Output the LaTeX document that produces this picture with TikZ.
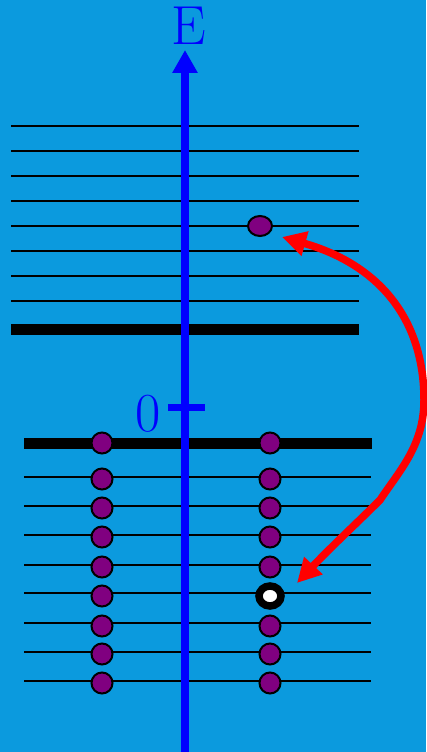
\documentclass[tikz,border=0pt]{standalone}
\usepackage{fontspec}
\usetikzlibrary{arrows.meta,shapes.geometric}
\definecolor{bgblue}{RGB}{11,154,222}
\definecolor{dotpurple}{RGB}{128,0,128}

\begin{document}
\begin{tikzpicture}[x=1pt, y=-1pt,
	level/.style={line width=2pt},
	bandedge/.style={line width=11pt},
	electron/.style={circle, draw, fill=dotpurple, line width=2pt, minimum size=21pt, inner sep=0pt},
	hole/.style={ellipse, draw, fill=white, line width=7.5pt, minimum width=22pt, minimum height=20pt, inner sep=0pt},
	axlabel/.style={text=blue, inner sep=0pt, font=\fontsize{55}{55}\selectfont}]
	% Background
	\fill[bgblue] (0,0) rectangle (426,752);
	\useasboundingbox (0,0) rectangle (426,752);
	
	% Conduction band levels
	\foreach \y in {125.7,150.7,175.7,200.7,225.5,250.5,275.5,300.5}
		\draw[level] (11,\y) -- (359,\y);
	\draw[bandedge] (11,329.5) -- (359,329.5);
	
	% Valence band levels
	\draw[bandedge] (24,443.5) -- (372,443.5);
	\foreach \y in {477,506,535,565,593,623,652,681}
		\draw[level] (24,\y) -- (371,\y);
	
	% Energy axis
	\coordinate (axbot) at (185,752);
	\coordinate (axtop) at (185,50);
	\draw[blue, line width=8pt, -{Triangle[length=23pt,width=24pt]}] (axbot) -- (axtop);
	\draw[blue, line width=7pt] (168,407) -- (205,407); % zero tick
	\node[axlabel] (lblE) at (189,25.5) {E};
	\node[axlabel] (lblzero) at (148.5,414) {0};
	
	% Excited electron
	\node[electron, ellipse, minimum width=24pt, minimum height=20pt] (exc) at (260,226) {};
	
	% Electrons in the valence band
	\foreach \y [count=\i] in {443,479,508,537,567,596,626,654,683}
		\node[electron] (vl\i) at (102,\y) {};
	\foreach \y [count=\i] in {443,479,508,537,567}
		\node[electron] (vr\i) at (270,\y) {};
	\foreach \y [count=\i from 7] in {626,654,683}
		\node[electron] (vr\i) at (270,\y) {};
	
	% Hole left behind
	\node[hole] (hl) at (270,596) {};
	
	% Excitation arrow
	\coordinate (lowtip) at (297,583);
	\coordinate (uptip) at (282,237);
	\draw[red, line width=7.5pt, {Triangle[length=24pt,width=24pt]}-{Triangle[length=24pt,width=24pt]}]
		(lowtip) .. controls (330,548) and (360,520) .. (380,500)
		.. controls (400,470) and (424,445) .. (424,400)
		.. controls (424,320) and (380,265) .. (uptip);
\end{tikzpicture}
\end{document}
